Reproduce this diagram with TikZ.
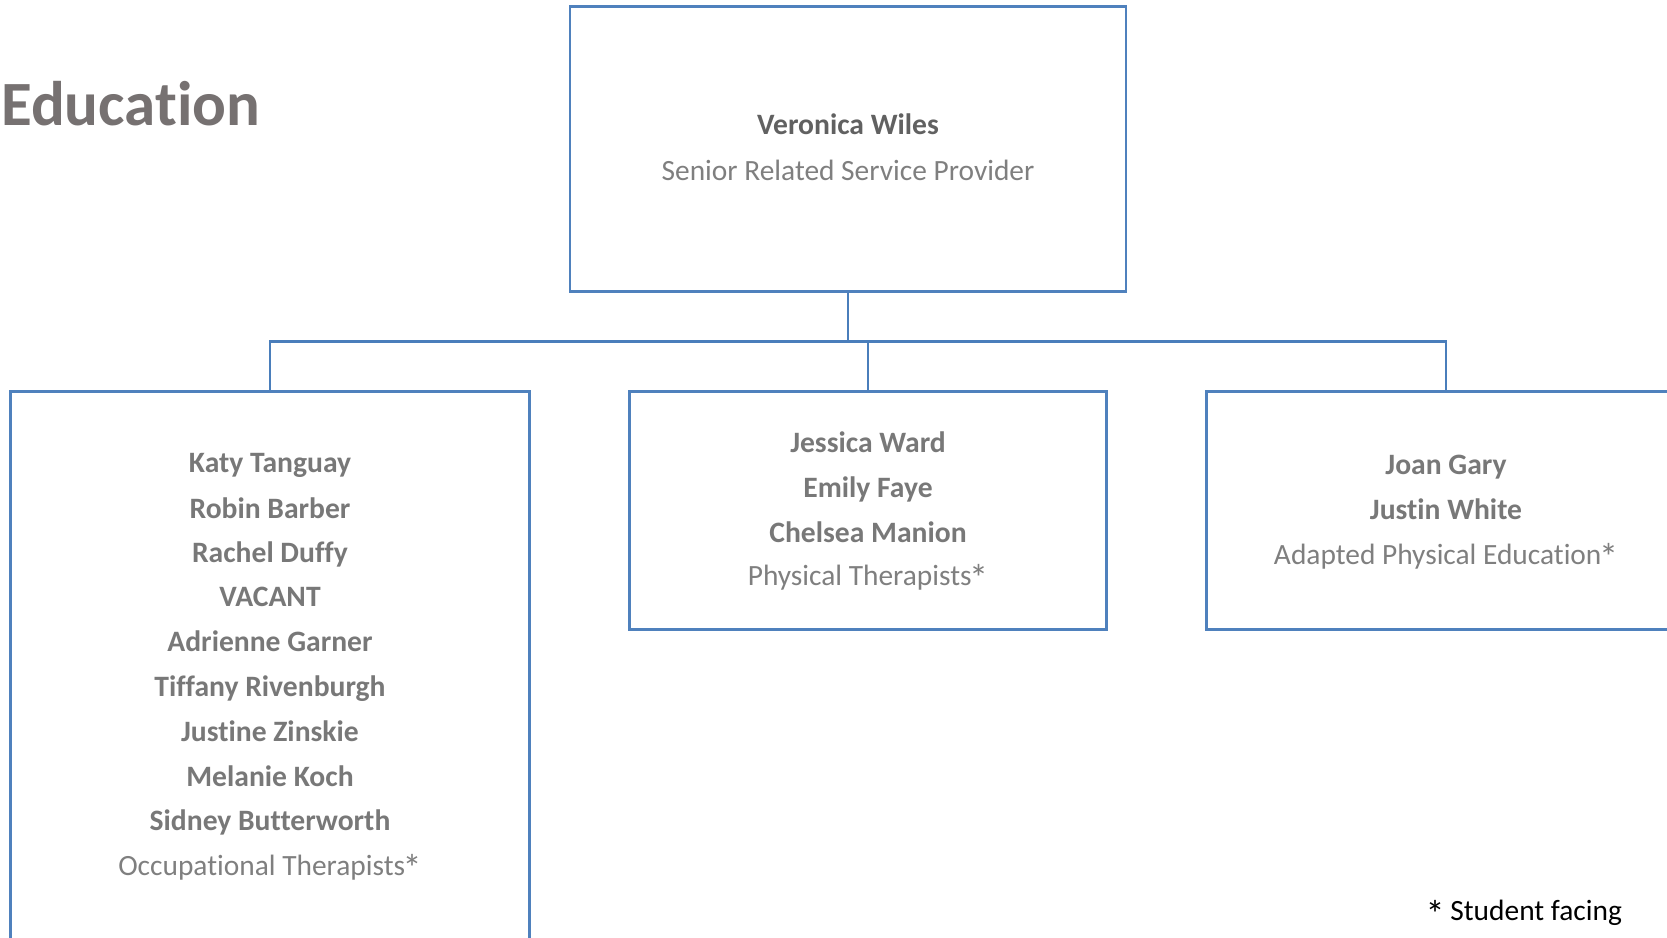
\documentclass[tikz,border=0pt]{standalone}
\usepackage{fontspec}
\setmainfont{Carlito}[Ligatures={NoCommon}]
\definecolor{boxblue}{HTML}{4F81BD}
\definecolor{linkblue}{HTML}{4A7EBB}
\definecolor{titlegray}{HTML}{767171}
\definecolor{namegray}{HTML}{787878}
\definecolor{rolegray}{HTML}{7F7F7F}
\newcommand{\myast}{\kern-2.5pt\raisebox{-6.5pt}{\scalebox{1.3}{*}}}
\begin{document}
\begin{tikzpicture}[x=1pt,y=-1pt,
  orgbox/.style={draw=boxblue, line width=2.6pt, rectangle, inner sep=0pt},
  conn/.style={draw=linkblue, line width=2.6pt},
  nametext/.style={anchor=base, inner sep=0pt, text=namegray, font=\fontsize{29.6}{34}\selectfont\bfseries},
  roletext/.style={anchor=base, inner sep=0pt, text=rolegray, font=\fontsize{29.4}{34}\selectfont},
]
\useasboundingbox (0,0) rectangle (1667,937);
\clip (0,0) rectangle (1667,937);

% title
\node[anchor=base west, inner sep=0pt, text=titlegray, font=\fontsize{63}{70}\selectfont\bfseries] (title) at (1,125) {Education};

% boxes
\node[orgbox, minimum width=556pt, minimum height=285pt] (top) at (848,148.85) {};
\node[orgbox, minimum width=518.8pt, minimum height=600pt] (lbox) at (270,691.2) {};
\node[orgbox, minimum width=477.3pt, minimum height=238.2pt] (mbox) at (868,510.3) {};
\node[orgbox, minimum width=478.8pt, minimum height=238.2pt] (rbox) at (1446,510.3) {};

% connectors
\coordinate (bus) at (0,341.3);
\draw[conn] (top.south) -- (top.south |- bus);
\draw[conn] (lbox.north) -- (lbox.north |- bus) -- (rbox.north |- bus) -- (rbox.north);
\draw[conn] (mbox.north) -- (mbox.north |- bus);

% top box text
\node[nametext, text=black!62] (t1) at (848,134.3) {Veronica Wiles};
\node[roletext] (t2) at (848,180) {Senior Related Service Provider};

% left box text
\node[nametext] (l1) at (270,472.7) {Katy Tanguay};
\node[nametext] (l2) at (270,518.3) {Robin Barber};
\node[nametext] (l3) at (270,562.7) {Rachel Duffy};
\node[nametext] (l4) at (270,606) {VACANT};
\node[nametext] (l5) at (270,651.7) {Adrienne Garner};
\node[nametext] (l6) at (270,696.7) {Tiffany Rivenburgh};
\node[nametext] (l7) at (270,741.7) {Justine Zinskie};
\node[nametext] (l8) at (270,786.7) {Melanie Koch};
\node[nametext] (l9) at (270,830) {Sidney Butterworth};
\node[roletext] (l10) at (270,875) {Occupational Therapists\myast};

% middle box text
\node[nametext] (m1) at (868,452.7) {Jessica Ward};
\node[nametext] (m2) at (868,497.3) {Emily Faye};
\node[nametext] (m3) at (868,542.7) {Chelsea Manion};
\node[roletext] (m4) at (868,585) {Physical Therapists\myast};

% right box text
\node[nametext] (r1) at (1446,474) {Joan Gary};
\node[nametext] (r2) at (1446,519.3) {Justin White};
\node[roletext] (r3) at (1446,564) {Adapted Physical Education\myast};

% footnote
\node[anchor=base west, inner sep=0pt, text=black, font=\fontsize{29.4}{34}\selectfont] (foot) at (1428,920.7) {\myast\kern-1pt{} Student facing};
\end{tikzpicture}
\end{document}
